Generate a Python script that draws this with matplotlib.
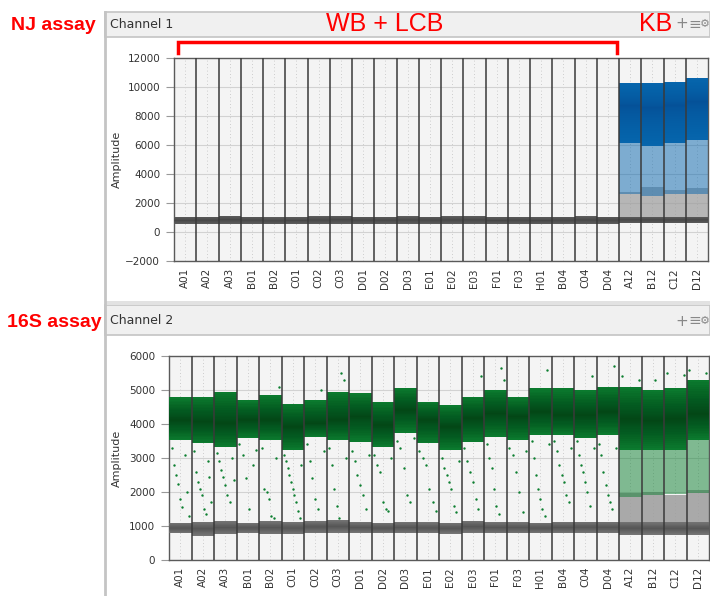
import numpy as np
import matplotlib.pyplot as plt
from matplotlib.patches import Rectangle
from matplotlib.lines import Line2D

# wells in plate order
wells = ['A01', 'A02', 'A03', 'B01', 'B02', 'C01', 'C02', 'C03', 'D01', 'D02',
         'D03', 'E01', 'E02', 'E03', 'F01', 'F03', 'H01', 'B04', 'C04', 'D04',
         'A12', 'B12', 'C12', 'D12']

# Channel 1 (NJ assay): negative band per well
ch1_neg_lo = [560, 560, 580, 560, 540, 560, 560, 580, 560, 560, 580, 570, 570, 580,
              560, 560, 560, 570, 580, 570, 620, 620, 620, 620]
ch1_neg_hi = [1050, 1060, 1120, 1060, 1000, 1020, 1080, 1120, 1060, 1060, 1080, 1060,
              1080, 1100, 1040, 1060, 1040, 1060, 1080, 1060, 1060, 1060, 1060, 1060]
# Channel 1 positives only in KB wells (A12-D12)
ch1_pos_lo = [6120, 5900, 6120, 6350]
ch1_pos_hi = [10300, 10250, 10370, 10600]
ch1_pos_rain = [2900, 2800, 2900, 2950]
ch1_neg_rain = [2780, 3100, 2900, 3050]

# Channel 2 (16S assay): positive cluster per well
ch2_pos_hi = [4780, 4800, 4950, 4700, 4850, 4600, 4700, 4950, 4900, 4660, 5050, 4660,
              4560, 4800, 5000, 4800, 5050, 5050, 5000, 5100, 5100, 5000, 5050, 5300]
ch2_pos_lo = [3530, 3430, 3330, 3580, 3530, 3240, 3630, 3530, 3480, 3330, 3730, 3430,
              3240, 3480, 3630, 3530, 3680, 3680, 3580, 3680, 3240, 3240, 3240, 3530]
ch2_pos_mid = [4120, 4070, 4020, 4120, 4120, 3920, 4020, 4120, 4220, 3970, 4410, 4120,
               3920, 4170, 4310, 4220, 4360, 4260, 4260, 4360, 4150, 4100, 4150, 4300]
ch2_neg_lo = [780, 720, 760, 790, 760, 760, 800, 800, 790, 780, 790, 780, 770, 800,
              790, 790, 780, 790, 800, 790, 740, 740, 740, 740]
ch2_neg_hi = [1100, 1120, 1150, 1100, 1150, 1120, 1150, 1180, 1120, 1100, 1120, 1110,
              1100, 1160, 1120, 1120, 1100, 1120, 1130, 1130, 1130, 1120, 1120, 1120]
# KB wells: dense rain between clusters
ch2_pos_rain = [2060, 2100, 2150, 2160]
ch2_neg_rain = [1960, 2000, 1900, 2050]
# sparse rain droplets per well (amplitudes)
ch2_rain = [
    [3300, 2800, 2500, 2250, 1800, 1550, 3100, 2000, 1300],
    [3200, 2600, 2300, 2100, 1900, 1500, 1350, 2900, 2450, 1700],
    [3150, 2900, 2650, 2450, 2200, 1900, 1700, 3000, 2350],
    [3400, 3100, 2400, 1500, 2800, 3250],
    [3300, 2100, 2000, 1800, 1300, 1250, 3000, 5100],
    [3100, 2900, 2700, 2500, 2300, 2100, 1900, 1700, 1450, 1250, 2800],
    [3400, 2900, 2400, 1800, 1500, 5000, 3200],
    [3300, 2800, 2100, 1600, 1250, 5500, 5300, 3000],
    [3200, 2900, 2500, 2200, 1900, 1500, 3100],
    [3100, 2800, 2600, 1700, 1500, 1450, 3000],
    [3500, 3300, 2700, 1900, 1700, 3600],
    [3200, 3000, 2800, 2100, 1700, 1450],
    [3000, 2700, 2500, 2300, 2100, 1600, 1400, 2900],
    [3300, 2900, 2600, 2300, 1800, 1500, 5400],
    [3400, 3000, 2700, 2100, 1600, 1350, 5650, 5300],
    [3300, 3100, 2600, 2000, 1400, 3200],
    [3500, 3000, 2500, 2100, 1800, 1500, 1300, 5600, 3400],
    [3500, 3200, 2800, 2500, 2300, 1900, 1700, 3300],
    [3500, 3100, 2800, 2600, 2300, 2000, 1600, 5400, 3300],
    [3400, 3100, 2600, 2200, 1900, 1700, 1500, 5700, 3300],
    [5400, 5300], [5300], [5500, 5450], [5600, 5500],
]

green, green_dk = '#0c7f30', '#033d16'
blue, blue_dk = '#0866ad', '#054a85'
grey_neg, grey_dk = '#767676', '#454545'
grey_rain = '#9c9c9c'

W, H = 710, 596
fig = plt.figure(figsize=(W / 100, H / 100), dpi=100)


def fx(x):
    return x / W


def fy(y):
    return 1 - y / H


# window chrome
for top, bot in [(12, 37), (305, 335)]:
    fig.add_artist(Rectangle((fx(105), fy(bot)), (W - 105) / W, (bot - top) / H,
                             transform=fig.transFigure, facecolor='#f0f0f0',
                             edgecolor='#c4c4c4', lw=1.2))
fig.add_artist(Rectangle((fx(105), fy(305)), (W - 105) / W, 4 / H,
                         transform=fig.transFigure, facecolor='#e2e2e2', lw=0))
fig.add_artist(Line2D([fx(105), fx(105)], [fy(12), fy(596)], transform=fig.transFigure,
                      color='#c4c4c4', lw=2))
fig.text(fx(110), fy(25), 'Channel 1', fontsize=9, color='#333333', va='center')
fig.text(fx(110), fy(321), 'Channel 2', fontsize=9, color='#333333', va='center')
for yy in (24, 321):
    fig.text(fx(682), fy(yy), '+', fontsize=11, color='#888888', ha='center', va='center')
    fig.text(fx(695), fy(yy), '\u2261', fontsize=11, color='#888888', ha='center', va='center')
    fig.text(fx(705), fy(yy), '\u2699', fontsize=8, color='#888888', ha='center', va='center')

# red annotations
red_font = ['Liberation Sans', 'DejaVu Sans']
fig.text(fx(53), fy(26), 'NJ assay', color='red', fontsize=14, fontweight='bold',
         ha='center', va='center', family=red_font)
fig.text(fx(54), fy(322), '16S assay', color='red', fontsize=14, fontweight='bold',
         ha='center', va='center', family=red_font)
fig.text(fx(385), fy(24), 'WB + LCB', color='red', fontsize=18, ha='center', va='center',
         family=red_font)
fig.text(fx(656), fy(24), 'KB', color='red', fontsize=18, ha='center', va='center',
         family=red_font)
fig.add_artist(Line2D([fx(178), fx(178), fx(617), fx(617)], [fy(53), fy(42), fy(42), fy(53)],
                      transform=fig.transFigure, color='red', lw=2.5,
                      solid_joinstyle='miter'))

x = np.arange(len(wells))


def style(ax, ymin, ymax, step, label_x):
    ax.set_facecolor('#f4f4f4')
    ax.set_xlim(-0.5, len(wells) - 0.5)
    ax.set_ylim(ymin, ymax)
    ax.set_yticks(np.arange(ymin, ymax + 1, step))
    ax.set_xticks(x)
    ax.set_xticklabels(wells, rotation=90, fontsize=7.5, color='#333333')
    ax.tick_params(axis='x', length=0, pad=5)
    ax.tick_params(axis='y', labelsize=7.5, labelcolor='#333333', color='#999999',
                   length=6, pad=4)
    ax.set_ylabel('Amplitude', fontsize=8, color='#333333')
    ax.yaxis.set_label_coords(label_x, 0.5)
    ax.grid(axis='y', color='#d2d2d2', lw=0.8, zorder=0)
    ax.set_axisbelow(True)
    for xi in x:
        ax.axvline(xi, color='#c0c0c0', lw=0.6, ls=(0, (1, 3)), zorder=0.5)
    for xb in x[1:] - 0.5:
        ax.axvline(xb, color='#3a3a3a', lw=1.1, zorder=6)
    for s in ax.spines.values():
        s.set_color('#5a5a5a')
        s.set_linewidth(1.0)


def cluster(ax, xs, lo, hi, mid, c, cdk, z=3, a=0.07, n=22, p=1.6):
    lo, hi, mid = np.asarray(lo), np.asarray(hi), np.asarray(mid)
    ax.bar(xs, hi - lo, bottom=lo, width=1.0, color=c, lw=0, zorder=z)
    for f in np.linspace(1, 0.03, n) ** p:
        b = mid - (mid - lo) * f
        t = mid + (hi - mid) * f
        ax.bar(xs, t - b, bottom=b, width=1.0, color=cdk, alpha=a, lw=0, zorder=z)


# ---- Channel 1 ----
ax1 = fig.add_axes([fx(174), fy(261), (708 - 174) / W, 203 / H])
style(ax1, -2000, 12000, 2000, (122 - 174) / 534)
kb = x[20:]
ax1.bar(kb, np.array(ch1_neg_rain) - 1000, bottom=1000, width=1.0, color=grey_rain,
        alpha=0.7, lw=0, zorder=2)
ax1.bar(kb, np.array(ch1_pos_lo) - np.array(ch1_pos_rain) + 300,
        bottom=np.array(ch1_pos_rain) - 300, width=1.0,
        color=blue, alpha=0.5, lw=0, zorder=2.5)
cluster(ax1, kb, ch1_pos_lo, ch1_pos_hi,
        (np.array(ch1_pos_lo) + np.array(ch1_pos_hi)) / 2 + 500, blue, blue_dk, a=0.02)
cluster(ax1, x, ch1_neg_lo, ch1_neg_hi,
        (np.array(ch1_neg_lo) + np.array(ch1_neg_hi)) / 2, '#5e5e5e', grey_dk, z=4, a=0.05)

# ---- Channel 2 ----
ax2 = fig.add_axes([fx(169), fy(560), (709 - 169) / W, 204 / H])
style(ax2, 0, 6000, 1000, (122 - 169) / 540)
ax2.bar(kb, np.array(ch2_neg_rain) - 1100, bottom=1100, width=1.0, color=grey_rain,
        alpha=0.85, lw=0, zorder=2)
ax2.bar(kb, np.array(ch2_pos_lo[20:]) - np.array(ch2_pos_rain) + 200,
        bottom=np.array(ch2_pos_rain) - 200,
        width=1.0, color=green, alpha=0.5, lw=0, zorder=2.5)
cluster(ax2, x, ch2_pos_lo, ch2_pos_hi, ch2_pos_mid, green, green_dk)
cluster(ax2, x, ch2_neg_lo, ch2_neg_hi,
        (np.array(ch2_neg_lo) + np.array(ch2_neg_hi)) / 2, grey_neg, grey_dk, z=4, a=0.04)
for xi, amps in zip(x, ch2_rain):
    offs = np.linspace(-0.38, 0.38, len(amps)) if len(amps) > 1 else np.array([0.1])
    ax2.scatter(xi + offs, amps, s=3, color=green, lw=0, zorder=5)

fig.savefig('out.png', dpi=100)
